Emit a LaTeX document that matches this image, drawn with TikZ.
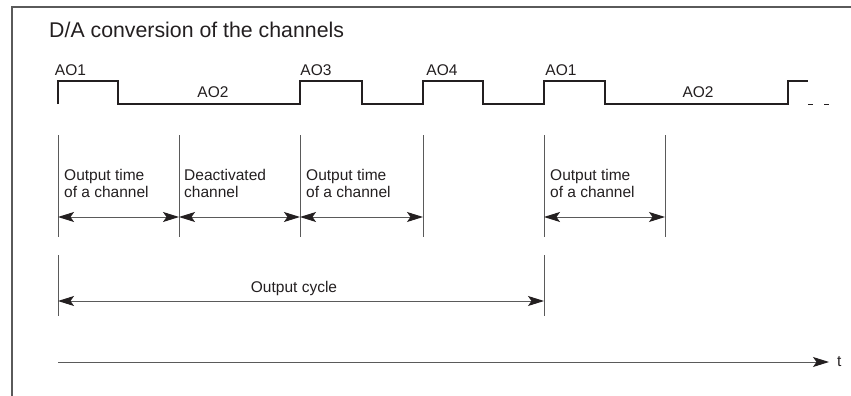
\documentclass[tikz,border=0pt]{standalone}
\usepackage{fontspec}
\setmainfont{Liberation Sans}
\usetikzlibrary{arrows.meta,positioning}
\definecolor{ink}{HTML}{231F20}
\definecolor{rule}{HTML}{5A5A5A}
\tikzset{sig/.style={draw=ink,line width=1.6pt},
         extline/.style={draw=rule,line width=0.9pt},
         tip/.tip={Stealth[length=16pt,width=10pt,inset=3.5pt,color=ink]},
         dim/.style={tip-tip,draw=rule,line width=0.9pt},
         lbl/.style={font=\fontsize{15.5}{17}\selectfont,text=ink,inner sep=0pt},
         txt/.style={lbl,align=left,anchor=west}}

\begin{document}
\begin{tikzpicture}[x=1pt,y=-1pt]
\useasboundingbox (0,0) rectangle (851,396);
% frame
\draw[draw=rule,line width=1.3pt] (12,396) -- (12,7) -- (851,7);
\node[lbl,anchor=base west,font=\fontsize{21.3}{24}\selectfont] (title) at (49,38) {D/A conversion of the channels};
% signal
\draw[sig] (58,104) -- (58,81) -- (118,81) -- (118,104) -- (300,104) -- (300,81) -- (362,81) -- (362,104)
  -- (423,104) -- (423,81) -- (483,81) -- (483,104) -- (544,104) -- (544,81) -- (605,81) -- (605,104)
  -- (788,104) -- (788,81) -- (808,81);
\draw[sig,line width=1pt,dash pattern=on 5pt off 11pt] (808,104) -- (830,104);
\node[lbl,anchor=base] (ao1) at (70.5,76) {AO1};
\node[lbl,anchor=base] (ao2) at (213,97) {AO2};
\node[lbl,anchor=base] (ao3) at (316,76) {AO3};
\node[lbl,anchor=base] (ao4) at (442,76) {AO4};
\node[lbl,anchor=base] (ao1b) at (561,76) {AO1};
\node[lbl,anchor=base] (ao2b) at (698,97) {AO2};
% channel times
\foreach \i/\x in {1/58,2/179,3/300,4/423,5/544,6/665} {
  \draw[extline] (\x,135) -- (\x,237);
  \coordinate (m\i) at (\x,217);
}
\draw[dim] (m1) -- (m2);
\draw[dim] (m2) -- (m3);
\draw[dim] (m3) -- (m4);
\draw[dim] (m5) -- (m6);
\node[txt] (ot1) at (64,183.5) {Output time\\of a channel};
\node[txt] (dc) at (184,183.5) {Deactivated\\channel};
\node[txt] (ot2) at (306,183.5) {Output time\\of a channel};
\node[txt] (ot3) at (550,183.5) {Output time\\of a channel};
% output cycle
\draw[extline] (58,255) -- (58,316);
\draw[extline] (544,255) -- (544,316);
\coordinate (c1) at (58,301);
\coordinate (c2) at (544,301);
\draw[dim] (c1) -- (c2);
\node[lbl,anchor=base] (cyc) at (294,292) {Output cycle};
% time axis
\coordinate (t0) at (58,362);
\coordinate (t1) at (829,362);
\draw[extline,-tip] (t0) -- (t1);
\node[lbl,right=8pt of t1] (t) {t};
\end{tikzpicture}
\end{document}
